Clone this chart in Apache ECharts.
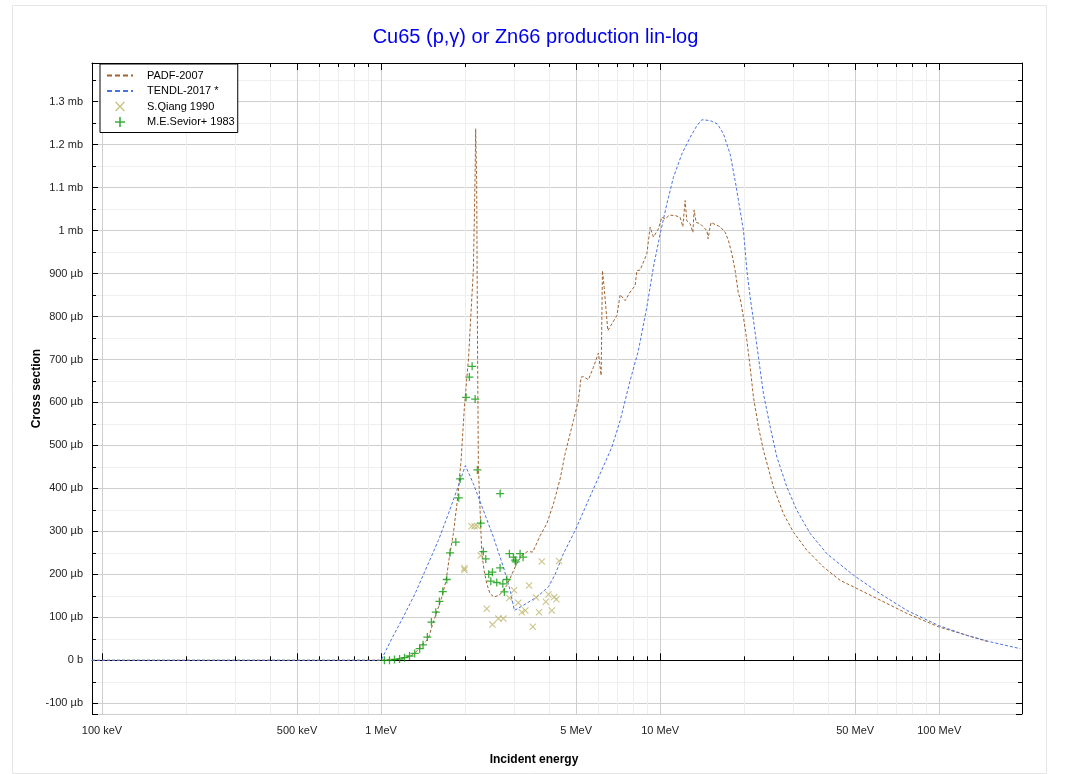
<!DOCTYPE html>
<html>
<head>
<meta charset="utf-8">
<title>Cu65 (p,γ) or Zn66 production lin-log</title>
<script src="https://cdn.jsdelivr.net/npm/echarts@6/dist/echarts.min.js"></script>
<style>
  html, body { margin: 0; padding: 0; background: #fff; }
  #chart { width: 1071px; height: 774px; }
</style>
</head>
<body>
<div id="chart"></div>
<script>
// energies in MeV, cross sections in mb
var padfData = [
  [0.0921, 0], [1.0, 0], [1.122, 0.002], [1.219, 0.006], [1.291, 0.012], [1.357, 0.024],
  [1.414, 0.038], [1.477, 0.050], [1.532, 0.085], [1.591, 0.116], [1.651, 0.147],
  [1.710, 0.186], [1.757, 0.240], [1.816, 0.295], [1.883, 0.380], [1.935, 0.465],
  [1.989, 0.589], [2.059, 0.705], [2.142, 0.910], [2.171, 1.114], [2.183, 1.237],
  [2.201, 1.114], [2.214, 0.788], [2.232, 0.45], [2.296, 0.249], [2.340, 0.209],
  [2.392, 0.178], [2.458, 0.155], [2.541, 0.147], [2.670, 0.153], [2.822, 0.174],
  [2.941, 0.200], [3.065, 0.225], [3.194, 0.244], [3.345, 0.253], [3.498, 0.252],
  [3.715, 0.290], [3.926, 0.318], [4.146, 0.364], [4.381, 0.422], [4.566, 0.481],
  [4.890, 0.558], [5.096, 0.605], [5.210, 0.659], [5.311, 0.660], [5.534, 0.653],
  [5.768, 0.682], [6.011, 0.715], [6.146, 0.663], [6.213, 0.907], [6.301, 0.868],
  [6.496, 0.767], [6.715, 0.783], [6.998, 0.802], [7.191, 0.851], [7.493, 0.837],
  [7.808, 0.857], [8.137, 0.872], [8.252, 0.907], [8.479, 0.908], [8.961, 0.946],
  [9.209, 1.008], [9.462, 0.985], [9.860, 1.004], [10.14, 1.031], [10.42, 1.027],
  [10.80, 1.036], [11.32, 1.035], [11.79, 1.031], [12.06, 1.009], [12.29, 1.070],
  [12.46, 1.023], [12.81, 1.016], [13.10, 0.996], [13.24, 1.048], [13.46, 1.019],
  [13.91, 1.016], [14.30, 1.008], [14.71, 1.000], [14.86, 0.981], [15.02, 1.000],
  [15.23, 1.019], [15.75, 1.014], [16.41, 1.009], [17.10, 0.996], [17.57, 0.977],
  [18.07, 0.946], [18.57, 0.907], [19.08, 0.853], [19.35, 0.843], [19.89, 0.798],
  [20.46, 0.744], [21.02, 0.682], [21.60, 0.612], [22.51, 0.543], [23.46, 0.488],
  [25.48, 0.403], [27.67, 0.341], [30.05, 0.298], [33.57, 0.256], [38.48, 0.217],
  [44.19, 0.186], [50.70, 0.167], [61.44, 0.140], [76.63, 0.109], [99.4, 0.078],
  [125.7, 0.058], [150.2, 0.043]
];

var tendlData = [
  [0.0921, 0], [1.0, 0], [1.092, 0.050], [1.202, 0.101], [1.324, 0.155], [1.458, 0.217],
  [1.605, 0.279], [1.743, 0.341], [1.867, 0.395], [2.005, 0.453], [2.142, 0.411],
  [2.326, 0.349], [2.526, 0.287], [2.744, 0.217], [2.900, 0.163], [3.004, 0.116],
  [3.236, 0.128], [3.614, 0.147], [3.98, 0.171], [4.205, 0.200], [4.502, 0.248],
  [4.959, 0.302], [5.462, 0.364], [6.096, 0.434], [6.715, 0.496], [7.191, 0.558],
  [7.808, 0.651], [8.360, 0.721], [8.961, 0.822], [9.462, 0.915], [10.0, 0.992],
  [10.57, 1.062], [11.16, 1.124], [11.96, 1.178], [12.81, 1.217], [13.54, 1.244],
  [14.11, 1.258], [15.11, 1.256], [16.05, 1.248], [16.86, 1.225], [17.82, 1.178],
  [18.57, 1.116], [19.35, 1.047], [19.89, 1.000], [20.46, 0.907], [21.02, 0.845],
  [21.60, 0.791], [22.51, 0.705], [23.46, 0.620], [24.80, 0.543], [26.20, 0.473],
  [28.46, 0.403], [30.90, 0.349], [34.49, 0.295], [39.58, 0.248], [49.29, 0.198],
  [61.44, 0.155], [76.63, 0.116], [99.4, 0.081], [125.7, 0.058], [152.3, 0.043],
  [195.2, 0.027]
];

var qiangData = [
  [1.989, 0.210], [1.989, 0.214], [2.110, 0.312], [2.163, 0.312], [2.218, 0.312],
  [2.277, 0.244], [2.392, 0.120], [2.506, 0.083], [2.633, 0.097], [2.744, 0.097],
  [2.884, 0.145], [2.997, 0.163], [3.105, 0.134], [3.194, 0.112], [3.289, 0.116],
  [3.393, 0.174], [3.498, 0.078], [3.593, 0.146], [3.684, 0.112], [3.767, 0.230],
  [3.894, 0.136], [3.979, 0.153], [4.092, 0.116], [4.170, 0.147], [4.250, 0.142],
  [4.345, 0.231]
];

var seviorData = [
  [1.028, 0.000], [1.072, 0.000], [1.117, 0.002], [1.165, 0.003], [1.214, 0.006],
  [1.265, 0.010], [1.320, 0.016], [1.375, 0.027], [1.414, 0.036], [1.465, 0.054],
  [1.515, 0.089], [1.571, 0.112], [1.618, 0.137], [1.664, 0.160], [1.720, 0.188],
  [1.767, 0.250], [1.853, 0.275], [1.899, 0.378], [1.920, 0.422], [2.017, 0.612],
  [2.073, 0.659], [2.120, 0.684], [2.173, 0.608], [2.214, 0.443], [2.277, 0.319],
  [2.326, 0.253], [2.373, 0.236], [2.432, 0.200], [2.473, 0.184], [2.506, 0.205],
  [2.598, 0.181], [2.670, 0.215], [2.672, 0.388], [2.731, 0.178], [2.766, 0.159],
  [2.822, 0.188], [2.884, 0.248], [2.981, 0.240], [3.022, 0.233], [3.039, 0.229],
  [3.149, 0.248], [3.228, 0.240]
];

var xMajorTicks = [0.1, 0.5, 1, 5, 10, 50, 100];
var xMinorTicks = [0.2, 0.3, 0.4, 0.6, 0.7, 0.8, 0.9, 2, 3, 4, 6, 7, 8, 9,
  20, 30, 40, 60, 70, 80, 90];

var xMin = 0.0921, xMax = 198;
var yMin = -0.125, yMax = 1.39;

var FONT = "'Liberation Sans', Arial, sans-serif";
var plusPath = 'path://M0,4.2H10V5.8H0ZM4.2,0H5.8V10H4.2Z';
var crossPath = 'path://M0,1.1L1.1,0L10,8.9L8.9,10ZM8.9,0L10,1.1L1.1,10L0,8.9Z';

function energyLabel(v) {
  if (v < 1) return Math.round(v * 1000) + ' keV';
  return Math.round(v) + ' MeV';
}
function xsLabel(v) {
  if (Math.abs(v) < 1e-9) return '0 b';
  if (v >= 0.999) return (Math.round(v * 10) / 10) + ' mb';
  return Math.round(v * 1000) + ' µb';
}

var chart = echarts.init(document.getElementById('chart'));

function xAxisBase(pos, major) {
  return {
    type: 'log',
    logBase: 10,
    min: xMin,
    max: xMax,
    position: pos,
    axisLine: { show: major, lineStyle: { color: '#000', width: 1 } },
    axisTick: {
      show: true, inside: true, length: major ? 7 : 4,
      customValues: major ? xMajorTicks : xMinorTicks,
      lineStyle: { color: '#000' }
    },
    axisLabel: {
      show: major && pos === 'bottom',
      customValues: xMajorTicks,
      formatter: energyLabel,
      margin: 11,
      color: '#222',
      fontSize: 11,
      fontFamily: FONT
    },
    splitLine: {
      show: pos === 'bottom',
      lineStyle: { color: major ? '#cfcfcf' : '#eeeeee', width: 1 }
    }
  };
}

function yAxisBase(pos) {
  var left = pos === 'left';
  return {
    type: 'value',
    position: pos,
    min: yMin,
    max: yMax,
    splitNumber: 15,
    axisLine: { show: true, lineStyle: { color: '#000', width: 1 } },
    axisTick: { show: true, inside: true, length: 6, lineStyle: { color: '#000' } },
    minorTick: { show: true, splitNumber: 2, length: 4, lineStyle: { color: '#000' } },
    axisLabel: {
      show: left,
      showMinLabel: false,
      showMaxLabel: false,
      formatter: xsLabel,
      margin: 9,
      color: '#222',
      fontSize: 11,
      fontFamily: FONT
    },
    splitLine: { show: left, lineStyle: { color: '#cfcfcf', width: 1 } },
    minorSplitLine: { show: left, lineStyle: { color: '#efefef', width: 1 } },
    name: left ? 'Cross section' : '',
    nameLocation: 'middle',
    nameGap: 49,
    nameMoveOverlap: false,
    nameTextStyle: { fontWeight: 'bold', fontSize: 12, color: '#000', fontFamily: FONT }
  };
}

var xAxes = [
  xAxisBase('bottom', true),
  xAxisBase('bottom', false),
  xAxisBase('top', true),
  xAxisBase('top', false)
];
xAxes[0].name = 'Incident energy';
xAxes[0].nameLocation = 'middle';
xAxes[0].nameGap = 40;
xAxes[0].nameMoveOverlap = false;
xAxes[0].nameTextStyle = {
  fontWeight: 'bold', fontSize: 12, color: '#000', fontFamily: FONT,
  padding: [0, 46, 0, 0]
};

var option = {
  backgroundColor: '#fff',
  animation: false,
  title: {
    text: 'Cu65 (p,γ) or Zn66 production lin-log',
    left: 'center',
    top: 22,
    textStyle: { color: '#0000ee', fontSize: 20, fontWeight: 'normal', fontFamily: FONT }
  },
  graphic: [{
    type: 'rect',
    silent: true,
    z: -10,
    shape: { x: 12.5, y: 5.5, width: 1034, height: 768 },
    style: { fill: 'none', stroke: '#e6e6e6', lineWidth: 1 }
  }],
  grid: { left: 92, right: 49, top: 63, bottom: 60, containLabel: false },
  legend: {
    left: 100,
    top: 64,
    orient: 'vertical',
    padding: [6, 3, 5, 6],
    itemWidth: 26,
    itemHeight: 10,
    itemGap: 4.5,
    backgroundColor: '#fff',
    borderColor: '#000',
    borderWidth: 1,
    borderRadius: 0,
    z: 10,
    textStyle: { fontSize: 11, color: '#000', fontFamily: FONT, lineHeight: 10, padding: [0, 0, 0, 9] },
    data: [
      { name: 'PADF-2007', itemStyle: { opacity: 0 }, lineStyle: { width: 2, type: [5, 3] } },
      { name: 'TENDL-2017 *', itemStyle: { opacity: 0 }, lineStyle: { width: 2, type: [5, 3] } },
      { name: 'S.Qiang 1990' },
      { name: 'M.E.Sevior+ 1983' }
    ]
  },
  xAxis: xAxes,
  yAxis: [yAxisBase('left'), yAxisBase('right')],
  series: [
    {
      name: 'PADF-2007',
      type: 'line',
      xAxisIndex: 0,
      yAxisIndex: 0,
      data: padfData,
      symbol: 'none',
      color: '#a0622e',
      lineStyle: { width: 1, type: [3, 2], color: '#a0622e' },
      z: 3
    },
    {
      name: 'TENDL-2017 *',
      type: 'line',
      xAxisIndex: 0,
      yAxisIndex: 0,
      data: tendlData,
      symbol: 'none',
      color: '#4a72e0',
      lineStyle: { width: 1, type: [3, 2], color: '#4a72e0' },
      z: 3
    },
    {
      name: 'S.Qiang 1990',
      type: 'scatter',
      xAxisIndex: 0,
      yAxisIndex: 0,
      data: qiangData,
      symbol: crossPath,
      symbolSize: 7,
      itemStyle: { color: '#bdb76b' },
      z: 4
    },
    {
      name: 'M.E.Sevior+ 1983',
      type: 'scatter',
      xAxisIndex: 0,
      yAxisIndex: 0,
      data: seviorData,
      symbol: plusPath,
      symbolSize: 8,
      itemStyle: { color: '#0a9a0a' },
      z: 5
    }
  ]
};

chart.setOption(option);
</script>
</body>
</html>
